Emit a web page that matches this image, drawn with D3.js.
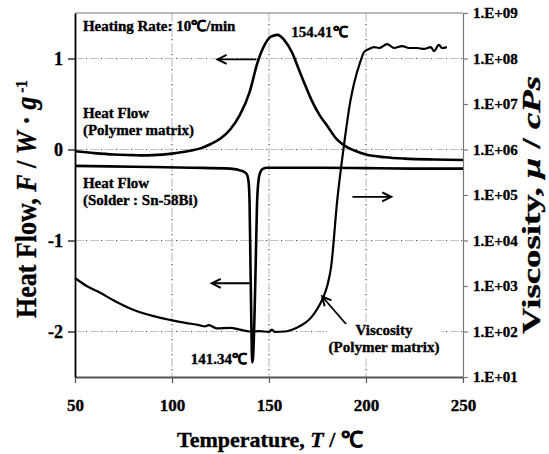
<!DOCTYPE html>
<html>
<head>
<meta charset="utf-8">
<script src="https://cdn.jsdelivr.net/npm/d3@7/dist/d3.min.js"></script>
<style>
  body { margin: 0; background: #fff; }
  text { font-family: "Liberation Serif", "Times New Roman", serif; font-weight: bold; fill: #000; stroke: #000; stroke-width: 0.35px; }
</style>
</head>
<body>
<div id="container"></div>
<script>
// ---- data ----
// heat flow of the polymer matrix (W/g)
let polyTemp = [50, 60, 70, 80, 85, 90, 100, 110, 115, 120, 125, 130, 135, 140, 144, 148, 151, 154.41, 158, 162, 165, 168, 172, 176, 180, 185, 190, 195, 200, 210, 220, 235, 250];
let polyFlow = [-0.02, -0.04, -0.055, -0.062, -0.065, -0.062, -0.045, -0.012, 0.015, 0.06, 0.12, 0.22, 0.38, 0.63, 0.95, 1.16, 1.24, 1.26, 1.2, 1.06, 0.9, 0.74, 0.54, 0.38, 0.26, 0.11, 0.03, -0.02, -0.055, -0.085, -0.1, -0.11, -0.115];

// heat flow of the solder Sn-58Bi (W/g)
let solderTemp = [50, 80, 110, 130, 136, 138.5, 139.5, 140.0, 140.4, 140.9, 141.34, 141.8, 142.5, 143.2, 143.8, 144.5, 145.5, 147, 149, 175, 200, 225, 250];
let solderFlow = [-0.18, -0.19, -0.2, -0.21, -0.235, -0.27, -0.36, -0.6, -1.2, -1.9, -2.34, -2.28, -1.85, -1.2, -0.62, -0.36, -0.25, -0.21, -0.2, -0.2, -0.205, -0.21, -0.21];

// viscosity of the polymer matrix (cPs)
let viscTemp = [50, 56, 63, 70, 80, 90, 99, 107, 114, 117, 119, 123, 130, 135, 140, 145, 150, 151.5, 153, 158, 164, 169, 172, 175, 177.4, 180, 182, 185.2, 187.2, 188.8, 192, 193.9, 197, 199, 201.6, 204.2, 206.7, 210.9, 214.5, 218.6, 222.2, 226.3, 229.9, 233.5, 235, 237.6, 239.1, 241.7];
let viscValue = [1.5e3, 1.0e3, 7.1e2, 4.8e2, 3.0e2, 2.2e2, 1.8e2, 1.55e2, 1.38e2, 1.29e2, 1.38e2, 1.17e2, 1.2e2, 1.1e2, 1.0e2, 1.02e2, 9.8e1, 1.1e2, 9.8e1, 1.0e2, 1.2e2, 1.58e2, 2.1e2, 3.2e2, 5.0e2, 1.0e3, 2.6e3, 7.8e4, 4.2e5, 1.4e6, 1.2e7, 2.9e7, 8.3e7, 1.38e8, 1.62e8, 1.78e8, 1.7e8, 2.08e8, 1.7e8, 1.87e8, 1.7e8, 1.7e8, 1.62e8, 1.78e8, 1.45e8, 2.0e8, 1.7e8, 1.78e8];

// axes
let tempTicks = [50, 100, 150, 200, 250];
let flowTicks = [-2, -1, 0, 1];
let viscTicks = [1e1, 1e2, 1e3, 1e4, 1e5, 1e6, 1e7, 1e8, 1e9];
let tempGrid = [100, 150, 200];

//Width and height
let w = 549;
let h = 454;
let margin = { top: 13, right: 86, bottom: 77, left: 75 };
let iw = w - margin.left - margin.right;
let ih = h - margin.top - margin.bottom;

let x = d3.scaleLinear().domain([50, 250]).range([0, iw]);
let y = d3.scaleLinear().domain([-2.5, 1.5]).range([ih, 0]);
let yv = d3.scaleLog().domain([1e1, 1e9]).range([ih, 0]);

let svg = d3.select("#container")
  .append("svg")
  .attr("width", w)
  .attr("height", h);

// open arrow head
svg.append("defs").append("marker")
  .attr("id", "arrow")
  .attr("markerUnits", "userSpaceOnUse")
  .attr("viewBox", "-12 -8 16 16")
  .attr("markerWidth", 16).attr("markerHeight", 16)
  .attr("refX", 0).attr("refY", 0)
  .attr("orient", "auto")
  .append("path")
  .attr("d", "M-9,-4.5 L0,0 L-9,4.5")
  .attr("fill", "none")
  .attr("stroke", "#000")
  .attr("stroke-width", 2);

let g = svg.append("g").attr("transform", `translate(${margin.left},${margin.top})`);

// grid: grey dashes with dark dots between them
function gridLine(x1, y1, x2, y2) {
  g.append("line").attr("x1", x1).attr("y1", y1).attr("x2", x2).attr("y2", y2)
    .attr("stroke", "#c4c4c4").attr("stroke-width", 1.2).attr("stroke-dasharray", "9,6");
  g.append("line").attr("x1", x1).attr("y1", y1).attr("x2", x2).attr("y2", y2)
    .attr("stroke", "#3c4a66").attr("stroke-width", 1.2).attr("stroke-dasharray", "1.2,13.8")
    .attr("stroke-dashoffset", -11);
}
flowTicks.forEach(function(d) { gridLine(0, y(d), iw, y(d)); });
tempGrid.forEach(function(d) { gridLine(x(d), 0, x(d), ih); });

// frame
g.append("line").attr("x1", 0).attr("x2", iw).attr("y1", 0).attr("y2", 0)
  .attr("stroke", "#777").attr("stroke-width", 1.2);

// axes
let xAxis = g.append("g").attr("transform", `translate(0,${ih})`)
  .call(d3.axisBottom(x).tickValues(tempTicks).tickSize(6).tickPadding(16).tickSizeOuter(0));
xAxis.select(".domain").attr("stroke", "#555").attr("stroke-width", 2);
xAxis.selectAll(".tick line").attr("stroke", "#555").attr("stroke-width", 1.2);
xAxis.selectAll("text").style("font-size", "17px");

let yAxis = g.append("g")
  .call(d3.axisLeft(y).tickValues(flowTicks).tickSize(7).tickPadding(5).tickSizeOuter(0)
    .tickFormat(function(d) { return String(d); }));
yAxis.select(".domain").attr("stroke", "#000").attr("stroke-width", 1.8);
yAxis.selectAll(".tick line").attr("stroke", "#000").attr("stroke-width", 1.2);
yAxis.selectAll("text").style("font-size", "18px");

let vAxis = g.append("g").attr("transform", `translate(${iw},0)`)
  .call(d3.axisRight(yv).tickValues(viscTicks).tickSize(5).tickPadding(5).tickSizeOuter(0)
    .tickFormat(function(d) { return "1.E+" + String(Math.round(Math.log10(d))).padStart(2, "0"); }));
vAxis.select(".domain").attr("stroke", "#777").attr("stroke-width", 1.2);
vAxis.selectAll(".tick line").attr("stroke", "#777").attr("stroke-width", 1.2);
vAxis.selectAll("text").style("font-size", "15px");

// curves
let flowLine = d3.line()
  .x(function(d) { return x(d[0]); })
  .y(function(d) { return y(d[1]); })
  .curve(d3.curveMonotoneX);
let viscLine = d3.line()
  .x(function(d) { return x(d[0]); })
  .y(function(d) { return yv(d[1]); })
  .curve(d3.curveMonotoneX);

g.append("path").datum(d3.zip(polyTemp, polyFlow))
  .attr("d", flowLine).attr("fill", "none").attr("stroke", "#000").attr("stroke-width", 2.6);
g.append("path").datum(d3.zip(solderTemp, solderFlow))
  .attr("d", flowLine).attr("fill", "none").attr("stroke", "#000").attr("stroke-width", 2.6)
  .attr("stroke-linejoin", "round");
g.append("path").datum(d3.zip(viscTemp, viscValue))
  .attr("d", viscLine).attr("fill", "none").attr("stroke", "#000").attr("stroke-width", 2.2)
  .attr("stroke-linejoin", "round");

// arrows, in data coordinates of the heat flow axis
let arrows = [
  [143.5, 0.99, 123.5, 0.99],
  [140, -1.47, 120.5, -1.47],
  [193, -0.52, 213, -0.52],
  [189.8, -1.92, 177.4, -1.615]
];
arrows.forEach(function(a) {
  g.append("line")
    .attr("x1", x(a[0])).attr("y1", y(a[1]))
    .attr("x2", x(a[2])).attr("y2", y(a[3]))
    .attr("stroke", "#000").attr("stroke-width", 1.8)
    .attr("marker-end", "url(#arrow)");
});

// annotations
function note(t, v, lines, anchor, bg) {
  let txt = g.append("text")
    .attr("x", x(t)).attr("y", y(v))
    .attr("text-anchor", anchor || "start")
    .style("font-size", "15px");
  lines.forEach(function(s, i) {
    txt.append("tspan").attr("x", x(t)).attr("dy", i == 0 ? 0 : "1.15em").text(s);
  });
  if (bg) {
    let b = txt.node().getBBox();
    g.insert("rect", function() { return txt.node(); })
      .attr("x", b.x - 2).attr("y", b.y + 2).attr("width", b.width + 4).attr("height", b.height - 2)
      .attr("fill", "#fff");
  }
}
note(54.1, 1.30, ["Heating Rate: 10\u2103/min"]);
note(161.5, 1.24, ["154.41\u2103"]);
note(54.1, 0.35, ["Heat Flow", "(Polymer matrix)"]);
note(54.1, -0.42, ["Heat Flow", "(Solder : Sn-58Bi)"]);
note(138.6, -2.36, ["141.34\u2103"], "end");
note(209.3, -2.04, ["Viscosity", "(Polymer matrix)"], "middle", true);

// axis titles
let xt = svg.append("text")
  .attr("x", 270).attr("y", 447)
  .attr("text-anchor", "middle")
  .style("font-size", "22px");
xt.append("tspan").text("Temperature, ");
xt.append("tspan").style("font-style", "italic").text("T");
xt.append("tspan").text(" / \u2103");

// rotated titles stretched along their length to match the picture
function sideTitle(cx, cy, len, size, build) {
  let gg = svg.append("g");
  let t = gg.append("text").attr("text-anchor", "middle").style("font-size", size + "px");
  build(t);
  let natural = t.node().getComputedTextLength();
  gg.attr("transform", `translate(${cx},${cy}) rotate(-90) scale(${len / natural},1)`);
}
sideTitle(36, 199, 238, 29, function(t) {
  t.append("tspan").text("Heat Flow, ");
  t.append("tspan").style("font-style", "italic").text("F");
  t.append("tspan").text(" / ");
  t.append("tspan").style("font-style", "italic").text("W");
  t.append("tspan").text(" \u00b7 ");
  t.append("tspan").style("font-style", "italic").text("g");
  t.append("tspan").attr("dy", "-0.55em").style("font-size", "17px").text(" -1");
});
sideTitle(540, 205, 258, 25, function(t) {
  t.append("tspan").text("Viscosity, ");
  t.append("tspan").style("font-style", "italic").text("\u03bc");
  t.append("tspan").text(" / ");
  t.append("tspan").style("font-style", "italic").text("cPs");
});
</script>
</body>
</html>
